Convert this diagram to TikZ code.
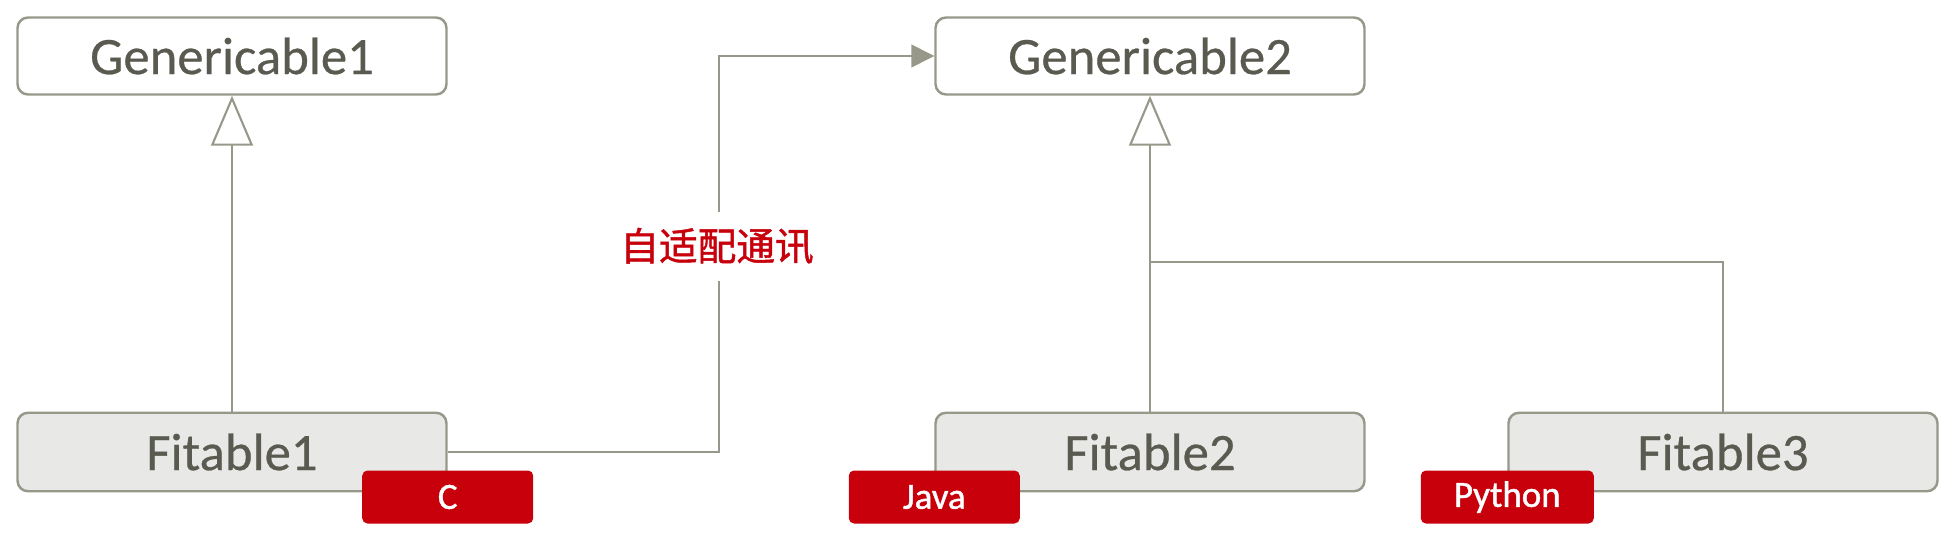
\documentclass[tikz,border=0pt]{standalone}
\usepackage{fontspec}
\setmainfont{Carlito}
\newfontfamily\boxfont[FakeBold=0.5]{Carlito}
\newfontfamily\tagfont[FakeBold=1.2]{Carlito}
\newfontfamily\cjk[FakeBold=1.2]{Noto Sans CJK SC}
\usepackage{xcolor}
\usepackage{tikz}
\usetikzlibrary{arrows.meta, positioning, calc}
\definecolor{umlgrey}{RGB}{152, 152, 138}
\definecolor{umltext}{RGB}{90, 90, 80}
\definecolor{umlfill}{RGB}{232, 232, 230}
\definecolor{langred}{RGB}{200, 0, 11}

\begin{document}
\begin{tikzpicture}[
    cls/.style={draw=umlgrey, line width=0.7pt, rounded corners=3pt, minimum width=4.29cm, minimum height=0.77cm, text=umltext, font=\boxfont\fontsize{15}{18}\selectfont},
    impl/.style={cls, fill=umlfill, minimum height=0.785cm},
    lang/.style={fill=langred, rounded corners=1.5pt, minimum width=1.71cm, minimum height=0.53cm, inner sep=0pt, text=white, font=\tagfont\fontsize{10.5}{12}\selectfont},
    link/.style={draw=umlgrey, line width=0.45pt},
    inherit/.style={link, -{Triangle[open, length=0.5cm, width=0.42cm, fill=white, line width=0.6pt]}},
    call/.style={link, -{Triangle[length=0.23cm, width=0.23cm]}}
]
    \useasboundingbox (0,0) rectangle (19.56,5.45);

    % The Generic Interfaces
    \node[cls] (gen1) at (2.32,4.89) {Genericable1};
    \node[cls] (gen2) at (11.50,4.89) {Genericable2};

    % The Fitting Classes
    \node[impl] (fit1) at (2.32,0.93) {Fitable1};
    \node[impl] (fit2) at (11.50,0.93) {Fitable2};
    \node[impl] (fit3) at (17.23,0.93) {Fitable3};

    % Inheritance Arrows
    \coordinate (join) at (11.50,2.83);
    \draw[inherit] (fit1.north) -- (gen1.south);
    \draw[inherit] (fit2.north) -- (gen2.south);
    \draw[link] (join) -| (fit3.north);

    % Adaptive Communication
    \draw[call] (fit1.east) -- ++(2.71,0) |- (gen2.west);
    \node[fill=white, text=langred, minimum height=0.69cm, inner xsep=2pt, font=\cjk\fontsize{11}{13}\selectfont] (comm) at (7.17,2.99) {自适配通讯};

    % Language Tags
    \coordinate (tagrow) at (0,0.48);
    \node[lang] (langc) at (fit1.east |- tagrow) {C};
    \node[lang] (langjava) at (fit2.west |- tagrow) {Java};
    \node[lang, minimum width=1.73cm] (langpy) at (fit3.west |- tagrow) {Python};
\end{tikzpicture}
\end{document}
